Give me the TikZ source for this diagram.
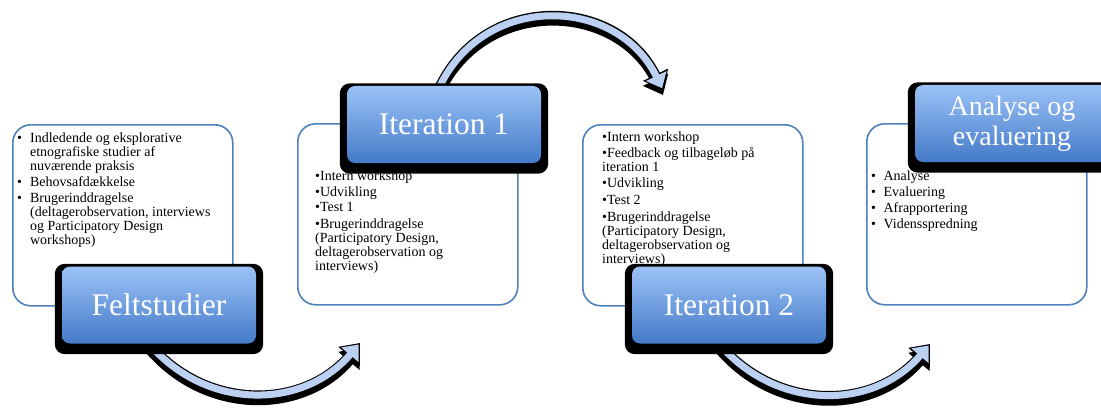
\documentclass[tikz,border=0pt]{standalone}
\usepackage{fontspec}
\setmainfont{Liberation Serif}
\usetikzlibrary{arrows.meta}
\definecolor{boxline}{RGB}{79,129,189}
\definecolor{fasetop}{RGB}{155,194,247}
\definecolor{fasebund}{RGB}{68,122,200}
\definecolor{pilfarve}{RGB}{188,208,242}
\pgfdeclarelayer{bund}
\pgfdeclarelayer{skygge}
\pgfsetlayers{bund,skygge,main}
\begin{document}
\begin{tikzpicture}[x=1pt,y=-1pt,
    plan/.style={draw=boxline,line width=1.6pt,fill=white,rounded corners=18pt,
      minimum width=220pt,minimum height=181pt,anchor=north west,inner sep=0},
    punkter/.style={anchor=base west,inner sep=0,
      font=\fontsize{14}{14}\selectfont},
    fase/.style={rounded corners=8pt,top color=fasetop,bottom color=fasebund,
      text=white,font=\fontsize{31.5}{30}\selectfont,align=center,
      minimum width=194pt,minimum height=77pt,inner sep=0},
    pilskygge/.style={black,line width=10pt,-{Triangle[length=17pt,width=27pt]},
      transform canvas={yshift=-5pt}},
    pilkant/.style={black,line width=9.5pt,-{Triangle[length=17pt,width=27pt]}},
    pil/.style={pilfarve,line width=7pt,-{Triangle[length=13.5pt,width=22pt]},shorten >=2pt}]
  \useasboundingbox (0,0) rectangle (1101,412);
  % hvide bokse med punkter
  \begin{pgfonlayer}{bund}
  \node[plan] (boks1) at (12,124) {};
  \node[plan] (boks2) at (297,123) {};
  \node[plan] (boks3) at (582,124) {};
  \node[plan] (boks4) at (866,123) {};
  \node[punkter] (tekst1) at (17,142) {\begin{tabular}[t]{@{}l@{\hspace{8pt}}l@{}}
      \textbullet & Indledende og eksplorative\\
      & etnografiske studier af\\
      & nuværende praksis\\[2pt]
      \textbullet & Behovsafdækkelse\\[2pt]
      \textbullet & Brugerinddragelse\\
      & (deltagerobservation, interviews\\
      & og Participatory Design\\
      & workshops)
    \end{tabular}};
  \node[punkter] (tekst2) at (315,180) {\begin{tabular}[t]{@{}l@{}}
      \textbullet Intern workshop\\[2.5pt]
      \textbullet Udvikling\\[1pt]
      \textbullet Test 1\\[3pt]
      \textbullet Brugerinddragelse\\
      (Participatory Design,\\
      deltagerobservation og\\
      interviews)
    \end{tabular}};
  \node[punkter] (tekst3) at (602,141.7) {\begin{tabular}[t]{@{}l@{}}
      \textbullet Intern workshop\\[1.5pt]
      \textbullet Feedback og tilbageløb på\\
      iteration 1\\[1.5pt]
      \textbullet Udvikling\\[3pt]
      \textbullet Test 2\\[3pt]
      \textbullet Brugerinddragelse\\
      (Participatory Design,\\
      deltagerobservation og\\
      interviews)
    \end{tabular}};
  \node[punkter] (tekst4) at (871,180) {\begin{tabular}[t]{@{}l@{\hspace{7.5pt}}l@{}}
      \textbullet & Analyse\\[2pt]
      \textbullet & Evaluering\\[2pt]
      \textbullet & Afrapportering\\[2pt]
      \textbullet & Vidensspredning
    \end{tabular}};
  \end{pgfonlayer}
  % blaa faser
  \node[fase] (felt) at (159,305) {Feltstudier};
  \node[fase] (iter1) at (444,124.5) {Iteration 1};
  \node[fase] (iter2) at (729,305) {Iteration 2};
  \node[fase,font=\fontsize{28}{30}\selectfont] (analyse) at (1012,123.5) {Analyse og\\evaluering};
  \begin{pgfonlayer}{skygge}
  \foreach \n in {felt,iter1,iter2,analyse}
    \fill[rounded corners=10pt] ([xshift=-7pt,yshift=2.5pt]\n.north west)
      rectangle ([xshift=7pt,yshift=-10.5pt]\n.south east);
  \end{pgfonlayer}
  % pile
  \coordinate (spids1) at (360,343);
  \coordinate (spids2) at (663,90);
  \coordinate (spids3) at (930,344);
  \begin{pgfonlayer}{bund}
    \foreach \stil in {pilskygge,pilkant,pil}{
      \draw[\stil] ([xshift=-10pt]felt.south) .. controls +(57,67) and +(-57,67) .. (spids1);
      \draw[\stil] ([xshift=-4pt]iter1.north) .. controls +(46,-94) and +(-46,-94) .. (spids2);
      \draw[\stil] ([xshift=-10pt]iter2.south) .. controls +(57,67) and +(-57,67) .. (spids3);
    }
  \end{pgfonlayer}
\end{tikzpicture}
\end{document}
